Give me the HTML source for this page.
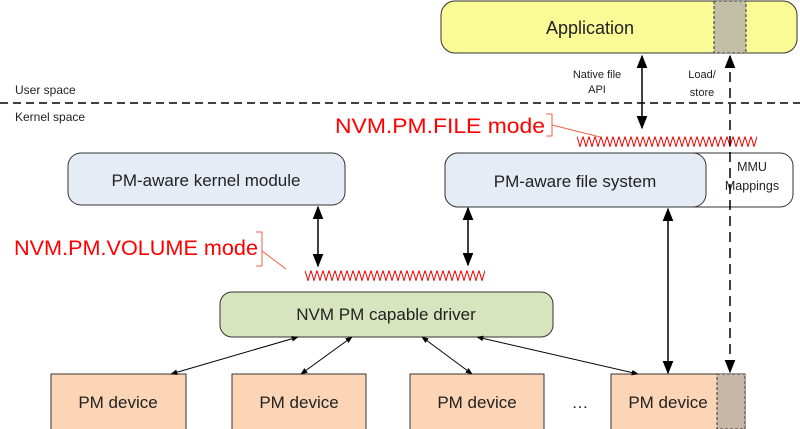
<!DOCTYPE html>
<html><head><style>
html,body{margin:0;padding:0;background:#fff;}
svg{display:block;font-family:"Liberation Sans",sans-serif;}
</style></head><body>
<svg width="800" height="429" viewBox="0 0 800 429" xmlns="http://www.w3.org/2000/svg">
<defs>
<marker id="a" viewBox="0 0 10 10" refX="9" refY="5" markerWidth="7" markerHeight="7" orient="auto-start-reverse"><path d="M0,1 L10,5 L0,9 z" fill="#000"/></marker>
<marker id="s" viewBox="0 0 10 10" refX="9" refY="5" markerWidth="9" markerHeight="9" orient="auto-start-reverse"><path d="M0,1 L10,5 L0,9 z" fill="#000"/></marker>
<pattern id="z1" x="577" y="136" width="6" height="11" patternUnits="userSpaceOnUse"><path d="M0,0.5 L3,10.5 L6,0.5" fill="none" stroke="#e00" stroke-width="1"/></pattern>
<pattern id="z2" x="305" y="270" width="6" height="11" patternUnits="userSpaceOnUse"><path d="M0,0.5 L3,10.5 L6,0.5" fill="none" stroke="#e00" stroke-width="1"/></pattern>
</defs>
<rect x="441" y="1" width="356" height="52" rx="14" fill="#fafa96" stroke="#333" stroke-width="1"/>
<rect x="714" y="1" width="32" height="52" fill="#c3bfa6" stroke="#333" stroke-dasharray="3,2"/>
<text x="590" y="34" font-size="18" text-anchor="middle" fill="#222">Application</text>
<line x1="0" y1="103" x2="800" y2="103" stroke="#000" stroke-width="1.5" stroke-dasharray="8,5"/>
<text x="15" y="94" font-size="12" fill="#222">User space</text>
<text x="15" y="121" font-size="12" fill="#222">Kernel space</text>
<text x="597" y="78" font-size="11" text-anchor="middle" fill="#222">Native file</text>
<text x="597" y="93" font-size="11" text-anchor="middle" fill="#222">API</text>
<text x="702" y="78" font-size="11" text-anchor="middle" fill="#222">Load/</text>
<text x="702" y="96" font-size="11" text-anchor="middle" fill="#222">store</text>
<line x1="642" y1="56" x2="642" y2="128" stroke="#000" stroke-width="1.5" marker-start="url(#s)" marker-end="url(#s)"/>
<text x="335" y="133" font-size="21" fill="#f00" textLength="210" lengthAdjust="spacingAndGlyphs">NVM.PM.FILE mode</text>
<path d="M546,114 H552 V136 H546" fill="none" stroke="#f06040" stroke-width="1"/>
<line x1="552" y1="125" x2="600" y2="137" stroke="#f06040" stroke-width="1"/>
<rect x="577" y="136" width="180" height="11" fill="url(#z1)"/>
<rect x="68" y="153" width="277" height="52" rx="13" fill="#e6ecf6" stroke="#333"/>
<text x="206" y="186" font-size="17" text-anchor="middle" fill="#222">PM-aware kernel module</text>
<rect x="445" y="153" width="348" height="54" rx="13" fill="#fff" stroke="#333"/>
<rect x="445" y="153" width="261" height="54" rx="13" fill="#e6ecf6" stroke="#333"/>
<text x="575" y="187" font-size="17" text-anchor="middle" fill="#222">PM-aware file system</text>
<text x="752" y="171" font-size="12.5" text-anchor="middle" fill="#222">MMU</text>
<text x="752" y="190" font-size="12.5" text-anchor="middle" fill="#222">Mappings</text>
<line x1="318" y1="207" x2="318" y2="266" stroke="#000" stroke-width="1.5" marker-start="url(#s)" marker-end="url(#s)"/>
<line x1="468" y1="208" x2="468" y2="265" stroke="#000" stroke-width="1.5" marker-start="url(#s)" marker-end="url(#s)"/>
<text x="14" y="255" font-size="21" fill="#f00" textLength="244" lengthAdjust="spacingAndGlyphs">NVM.PM.VOLUME mode</text>
<path d="M256,232 H262 V266 H256" fill="none" stroke="#f06040" stroke-width="1"/>
<line x1="262" y1="251" x2="286" y2="269" stroke="#f06040" stroke-width="1"/>
<rect x="305" y="270" width="180" height="11" fill="url(#z2)"/>
<rect x="220" y="292" width="333" height="45" rx="12" fill="#d7e4bd" stroke="#333"/>
<text x="386" y="320" font-size="17" text-anchor="middle" fill="#222">NVM PM capable driver</text>
<line x1="668" y1="209" x2="668" y2="373" stroke="#000" stroke-width="1.5" marker-start="url(#s)" marker-end="url(#s)"/>
<g font-size="17" fill="#222" text-anchor="middle">
<rect x="51" y="374" width="135" height="56" fill="#fbd5b5" stroke="#333"/>
<text x="118" y="408">PM device</text>
<rect x="232" y="374" width="134" height="56" fill="#fbd5b5" stroke="#333"/>
<text x="299" y="408">PM device</text>
<rect x="410" y="374" width="134" height="56" fill="#fbd5b5" stroke="#333"/>
<text x="477" y="408">PM device</text>
<text x="580" y="408">…</text>
<rect x="611" y="374" width="134" height="56" fill="#fbd5b5" stroke="#333"/>
<rect x="717" y="374" width="28" height="55" fill="#c8b6a6" stroke="#333" stroke-dasharray="3,2"/>
<text x="668" y="408">PM device</text>
</g>
<line x1="730" y1="56" x2="730" y2="372" stroke="#000" stroke-width="1.5" stroke-dasharray="10,6" marker-start="url(#s)" marker-end="url(#s)"/>
<g stroke="#000" stroke-width="1">
<line x1="298" y1="337" x2="171" y2="374" marker-start="url(#a)" marker-end="url(#a)"/>
<line x1="352" y1="337" x2="301" y2="374" marker-start="url(#a)" marker-end="url(#a)"/>
<line x1="422" y1="337" x2="472" y2="374" marker-start="url(#a)" marker-end="url(#a)"/>
<line x1="477" y1="337" x2="638" y2="374" marker-start="url(#a)" marker-end="url(#a)"/>
</g>
</svg>
</body></html>
